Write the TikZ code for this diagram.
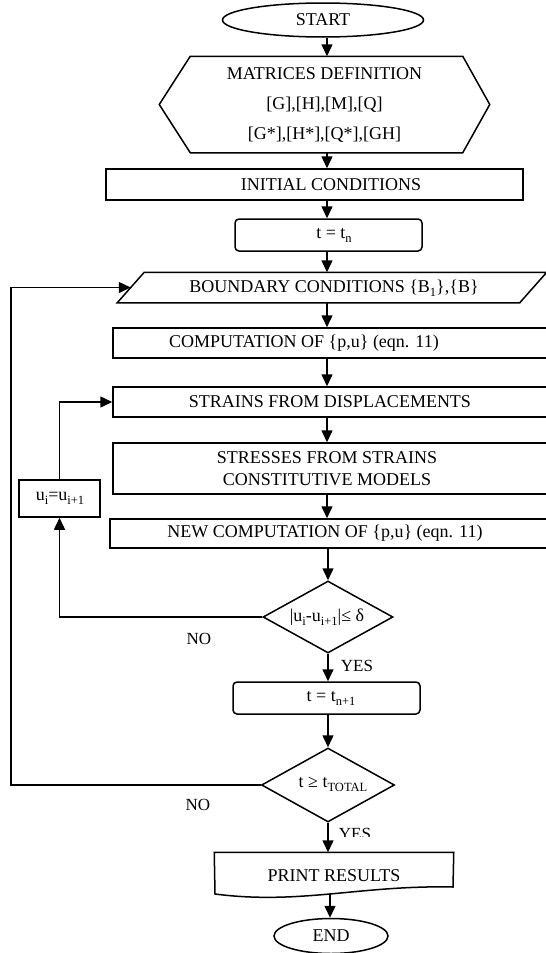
\documentclass[tikz,border=0pt]{standalone}
\usepackage{fontspec}
\setmainfont{Liberation Serif}
\usetikzlibrary{arrows.meta,shapes.geometric,calc}
\newcommand{\sbs}[1]{\raisebox{-4pt}{\fontsize{12.5}{12.5}\selectfont #1}}
\begin{document}
\begin{tikzpicture}[x=1pt,y=-1pt,
  line width=1.5pt,
  every node/.style={font=\fontsize{18}{21}\selectfont, inner sep=0pt},
  box/.style={draw, rectangle},
  rbox/.style={draw, rectangle, rounded corners=4pt},
  term/.style={draw, ellipse},
  dec/.style={draw, diamond, aspect=1.8},
  lbl/.style={font=\fontsize{17}{20}\selectfont},
  arr/.style={-{Triangle[length=12pt,width=11pt]}},
]
\useasboundingbox (0,0) rectangle (546,953);
\clip (0,0) rectangle (546,953);
\coordinate (ax) at (327,0);

% START
\node[term, minimum width=201pt, minimum height=34pt] (start) at (323,20) {START};

% matrices definition (hexagon)
\node[minimum width=329pt, minimum height=95pt, align=center,
      font=\fontsize{18}{30}\selectfont] (hex) at (324.5,104.5)
  {MATRICES DEFINITION\\{}[G],[H],[M],[Q]\\{}[G*],[H*],[Q*],[GH]};
\draw (hex.west) -- ($(hex.north west)+(31,0)$) -- ($(hex.north east)+(-27,0)$)
  -- (hex.east) -- ($(hex.south east)+(-27,0)$) -- ($(hex.south west)+(31,0)$) -- cycle;

% initial conditions
\node[box, minimum width=417pt, minimum height=31pt] (init) at (314.5,184.5) {};
\node (initt) at (331,185) {INITIAL CONDITIONS};

% t = t_n
\node[rbox, minimum width=187pt, minimum height=32pt] (tn) at (328.5,235) {};
\node (tnt) at (334,235) {t = t\sbs{n}};

% boundary conditions (parallelogram)
\node[minimum width=428pt, minimum height=29pt] (bnd) at (332,287.5) {};
\node (bndt) at (334,288) {BOUNDARY CONDITIONS \{B\sbs{1}\},\{B\}};
\draw (bnd.south west) -- ($(bnd.north west)+(27,0)$) -- (bnd.north east)
  -- ($(bnd.south east)+(-27,0)$) -- cycle;

% computation
\node[box, minimum width=487pt, minimum height=30pt] (comp) at (356.5,343) {};
\node (compt) at (304,343) {COMPUTATION OF \{p,u\} (eqn. 11)};

% strains
\node[box, minimum width=487pt, minimum height=30pt] (strains) at (356.5,402) {};
\node (strainst) at (330,402) {STRAINS FROM DISPLACEMENTS};

% stresses
\node[box, minimum width=487pt, minimum height=51pt] (stress) at (356.5,468.5) {};
\node[align=center, font=\fontsize{18}{22}\selectfont] (stresst) at (327,469)
  {STRESSES FROM STRAINS\\CONSTITUTIVE MODELS};

% new computation
\node[box, minimum width=490pt, minimum height=29pt] (newc) at (355,533.5) {};
\node (newct) at (325,533.5) {NEW COMPUTATION OF \{p,u\} (eqn. 11)};

% u_i = u_{i+1}
\node[box, minimum width=81pt, minimum height=37pt] (ubox) at (59.5,498.5) {};
\node (uboxt) at (60,498) {u\sbs{i}=u\sbs{i+1}};

% decision 1
\node[dec, minimum width=130pt, minimum height=72pt] (d1) at (328,617) {};
\node (d1t) at (327,617) {|u\sbs{i}-u\sbs{i+1}|≤ δ};

% t = t_{n+1}
\node[rbox, minimum width=187pt, minimum height=32pt] (tn1) at (326.5,698) {};
\node (tn1t) at (331,698) {t = t\sbs{n+1}};

% decision 2
\node[dec, minimum width=133pt, minimum height=74pt] (d2) at (328,785) {};
\node (d2t) at (333,784) {t ≥ t\sbs{TOTAL}};

% print results (document shape)
\node[minimum width=238pt, minimum height=46pt] (prt) at (334,876) {PRINT RESULTS};
\draw (prt.north west) -- (prt.north east) -- (453,887)
  .. controls (360,885) and (300,905) .. (215,894) -- cycle;
\coordinate (pbot) at (330,894);

% END
\node[term, minimum width=114pt, minimum height=35pt] (end) at (331,936) {END};

% labels
\node[lbl] (no1) at (199,639) {NO};
\node[lbl] (no2) at (198,805) {NO};
\node[lbl] (yes1) at (357,665.5) {YES};
\begin{scope}
  \clip (330,820) rectangle (390,836.5);
  \node[lbl] (yes2) at (355,833.5) {YES};
\end{scope}

% main flow
\draw[arr] (start.south -| ax) -- (hex.north -| ax);
\draw[arr] (hex.south -| ax) -- (init.north -| ax);
\draw[arr] (init.south -| ax) -- (tn.north -| ax);
\draw[arr] (tn.south -| ax) -- (bnd.north -| ax);
\draw[arr] (bnd.south -| ax) -- (comp.north -| ax);
\draw[arr] (comp.south -| ax) -- (strains.north -| ax);
\draw[arr] (strains.south -| ax) -- (stress.north -| ax);
\draw[arr] (stress.south -| ax) -- (newc.north -| ax);
\draw[arr] (newc.south -| d1) -- (d1.north);
\draw[arr] (d1.south) -- (tn1.north -| d1.south);
\draw[arr] (tn1.south -| d2) -- (d2.north);
\draw[arr] (d2.south) -- (d2.south |- prt.north);
\draw[arr] (pbot) -- (pbot |- end.north);

% loops
\draw[arr] (d1.west) -- (d1.west -| ubox.south) -- (ubox.south);
\draw[arr] (ubox.north) -- (ubox.north |- strains.west) -- (strains.west);
\coordinate (lp) at (11,785);
\coordinate (bin) at ($(bnd.south west)!0.5!($(bnd.north west)+(27,0)$)$);
\draw[arr] (d2.west) -- (d2.west -| lp) -- (lp |- bin) -- (bin);
\end{tikzpicture}
\end{document}
